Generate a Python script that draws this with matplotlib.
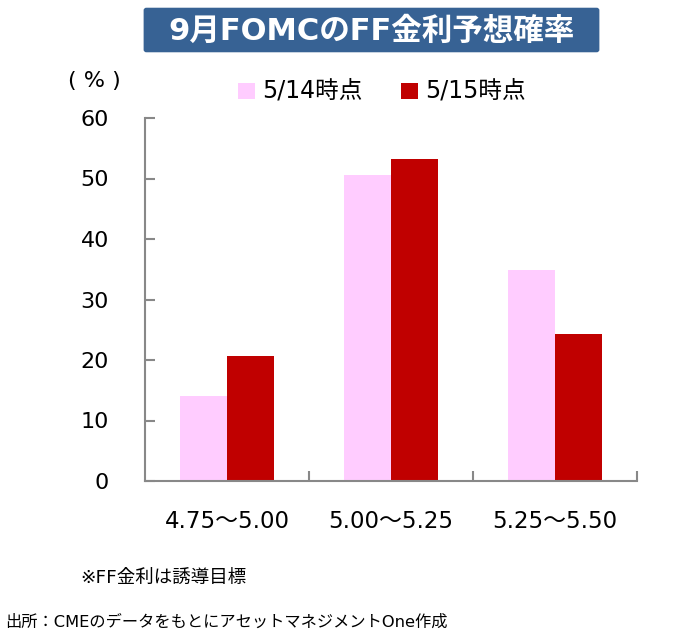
import matplotlib
matplotlib.use("Agg")
import matplotlib.pyplot as plt
from matplotlib.patches import FancyBboxPatch, Rectangle
import numpy as np

plt.rcParams['font.family'] = ['DejaVu Sans', 'Noto Sans CJK JP']

categories = ["4.75～5.00", "5.00～5.25", "5.25～5.50"]
series_names = ["5/14時点", "5/15時点"]
values_514 = [14.0, 50.6, 34.9]
values_515 = [20.7, 53.3, 24.3]
colors = ["#FFCCFF", "#C00000"]
title = "9月FOMCのFF金利予想確率"
note = "※FF金利は誘導目標"
source = "出所：CMEのデータをもとにアセットマネジメントOne作成"

W, H = 692, 641
fig = plt.figure(figsize=(W/100, H/100), dpi=100)
ax = fig.add_axes([145/W, 1-481/H, (637-145)/W, (481-118)/H])

x = np.arange(len(categories))
bw = 0.286
ax.bar(x - bw/2, values_514, width=bw, color=colors[0], label=series_names[0])
ax.bar(x + bw/2, values_515, width=bw, color=colors[1], label=series_names[1])

ax.set_xlim(-0.5, 2.5)
ax.set_ylim(0, 60)
ax.set_yticks(np.arange(0, 61, 10))
spc = "#888888"
for s in ["top", "right"]:
    ax.spines[s].set_visible(False)
for s in ["left", "bottom"]:
    ax.spines[s].set_color(spc)
    ax.spines[s].set_linewidth(1.5)
ax.tick_params(axis='y', direction='in', length=7, width=1.5, color=spc,
               labelsize=16, pad=26, labelcolor='black')
ax.set_xticks([0.5, 1.5, 2.5])
ax.set_xticklabels([])
ax.tick_params(axis='x', direction='in', length=7, width=1.5, color=spc)
for i, c in enumerate(categories):
    xf = ax.transData.transform((i, 0))[0] / W
    fig.text(xf, 1-522/H, c, ha='center', va='center', fontsize=16.5)

# title box
fig.patches.append(FancyBboxPatch((145/W, 1-51/H), (598-145)/W, 42/H,
                                  boxstyle="round,pad=0.002,rounding_size=0.004",
                                  transform=fig.transFigure, facecolor="#376294",
                                  edgecolor="none"))
fig.text((143+600)/2/W, 1-31/H, title, ha='center', va='center',
         fontsize=22, fontweight='bold', color='white')

# legend
fig.text(68/W, 1-81/H, "( % )", ha='left', va='center', fontsize=16)
for i, (name, col, lx) in enumerate(zip(series_names, colors, [238, 401])):
    fig.patches.append(Rectangle((lx/W, 1-99/H), 17/W, 16/H,
                                 transform=fig.transFigure, facecolor=col,
                                 edgecolor='none'))
    fig.text((lx+24)/W, 1-90/H, name, ha='left', va='center', fontsize=17)

fig.text(80/W, 1-578/H, note, ha='left', va='center', fontsize=13.3)
fig.text(5/W, 1-622/H, source, ha='left', va='center', fontsize=11.7)

fig.savefig("out.png", dpi=100)
